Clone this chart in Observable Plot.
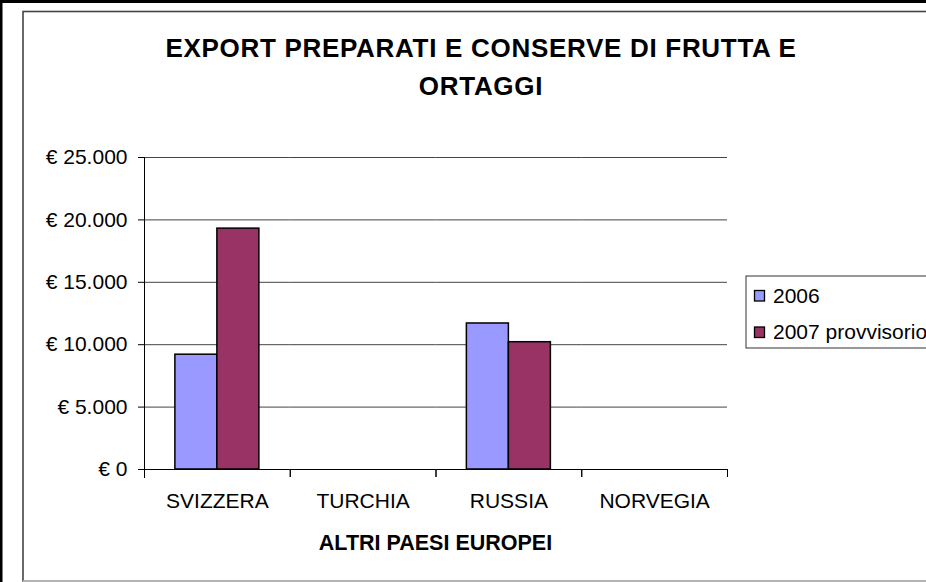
<!DOCTYPE html>
<html>
<head>
<meta charset="utf-8">
<script src="https://cdn.jsdelivr.net/npm/d3@7"></script>
<script src="https://cdn.jsdelivr.net/npm/@observablehq/plot@0.6"></script>
<style>
html, body { margin: 0; padding: 0; background: #fff; }
#chart svg { display: block; }
</style>
</head>
<body>
<div id="chart"></div>
<script>
// ---- data ----
const titleLines = ["EXPORT PREPARATI E CONSERVE DI FRUTTA E", "ORTAGGI"];
const xTitle = "ALTRI PAESI EUROPEI";
const countries = ["SVIZZERA", "TURCHIA", "RUSSIA", "NORVEGIA"];
const seriesNames = ["2006", "2007 provvisorio"];
const values2006 = [9200, null, 11700, null];
const values2007 = [19300, null, 10200, null];
const yTicks = [0, 5000, 10000, 15000, 20000, 25000];
const seriesColors = ["#9999FF", "#993366"];

const seriesValues = [values2006, values2007];
// keep rows with missing values so every country facet exists (no bar is drawn for them)
const data = countries.flatMap((c, i) =>
  seriesNames.map((s, j) => ({country: c, series: s, value: seriesValues[j][i]}))
);

const locale = d3.formatLocale({decimal: ",", thousands: ".", grouping: [3], currency: ["€ ", ""]});
const fmt = locale.format("$,.0f");

const FONT = "'Liberation Sans', Arial, Helvetica, sans-serif";

const plot = Plot.plot({
  width: 926,
  height: 582,
  marginLeft: 144,
  marginRight: 199,
  marginTop: 157,
  marginBottom: 113,
  style: {fontFamily: FONT, fontSize: "21px", color: "#000", background: "#fff", overflow: "visible"},
  fx: {domain: countries, padding: 0, round: false, axis: null},
  x: {domain: seriesNames, paddingInner: 0, paddingOuter: 0.735, round: false, axis: null},
  y: {domain: [0, 25000], axis: null},
  color: {domain: seriesNames, range: seriesColors},
  marks: [
    Plot.ruleY(yTicks.filter(d => d > 0), {stroke: "#444", strokeWidth: 1}),
    Plot.barY(data, {fx: "country", x: "series", y: "value", fill: "series", stroke: "#000", strokeWidth: 1.5}),
    Plot.ruleY([0], {stroke: "#000", strokeWidth: 1}),
    Plot.frame({anchor: "left", insetTop: 312, insetBottom: -7, stroke: "#000"}),
    Plot.frame({anchor: "right", insetTop: 312, insetBottom: -7, stroke: "#000"}),
    Plot.frame({anchor: "left", insetBottom: -8, stroke: "#000", facetAnchor: "left"}),
    Plot.axisY({ticks: yTicks, tickFormat: fmt, tickSize: 6, tickPadding: 11, fontSize: 21, label: null, stroke: "#000", facetAnchor: "left"}),
    Plot.axisFx({anchor: "bottom", tickSize: 0, tickPadding: 24, fontSize: 21, label: null})
  ]
});

document.getElementById("chart").appendChild(plot);

// ---- decorations: borders, title, axis title, legend ----
const svg = d3.select(plot);
const deco = svg.insert("g", ":first-child");
deco.append("rect").attr("x", 0).attr("y", 0).attr("width", 926).attr("height", 582).attr("fill", "#fff");
// inner chart-area frame
deco.append("rect").attr("x", 23).attr("y", 11.5).attr("width", 1000).attr("height", 569.5)
  .attr("fill", "none").attr("stroke", "#444").attr("stroke-width", 1.6);
deco.append("line").attr("x1", 23).attr("x2", 926).attr("y1", 581).attr("y2", 581)
  .attr("stroke", "#ccc").attr("stroke-width", 1.5);
// outer black border
deco.append("rect").attr("x", 0).attr("y", 0).attr("width", 926).attr("height", 3).attr("fill", "#000");
deco.append("rect").attr("x", 0).attr("y", 0).attr("width", 2.5).attr("height", 582).attr("fill", "#000");

const overlay = svg.append("g").attr("font-family", FONT).attr("fill", "#000");
const titleBaselines = [57, 95];
titleLines.forEach((t, i) => {
  overlay.append("text").attr("x", 481).attr("y", titleBaselines[i])
    .attr("text-anchor", "middle").attr("font-size", 26).attr("font-weight", "bold")
    .attr("letter-spacing", "0.7px").text(t);
});
overlay.append("text").attr("x", 435.5).attr("y", 550)
  .attr("text-anchor", "middle").attr("font-size", 21.5).attr("font-weight", "bold")
  .text(xTitle);

// legend
const color = plot.scale("color");
const lg = overlay.append("g");
lg.append("rect").attr("x", 746).attr("y", 276).attr("width", 300).attr("height", 72)
  .attr("fill", "#fff").attr("stroke", "#333").attr("stroke-width", 1);
seriesNames.forEach((s, i) => {
  const y = 290.5 + i * 36.5;
  lg.append("rect").attr("x", 754.5).attr("y", y).attr("width", 10).attr("height", 10.5)
    .attr("fill", color.range[color.domain.indexOf(s)]).attr("stroke", "#000").attr("stroke-width", 1.3);
  lg.append("text").attr("x", 773).attr("y", 302.5 + i * 36).attr("font-size", 21)
    .attr("text-anchor", "start").text(s);
});
</script>
</body>
</html>
